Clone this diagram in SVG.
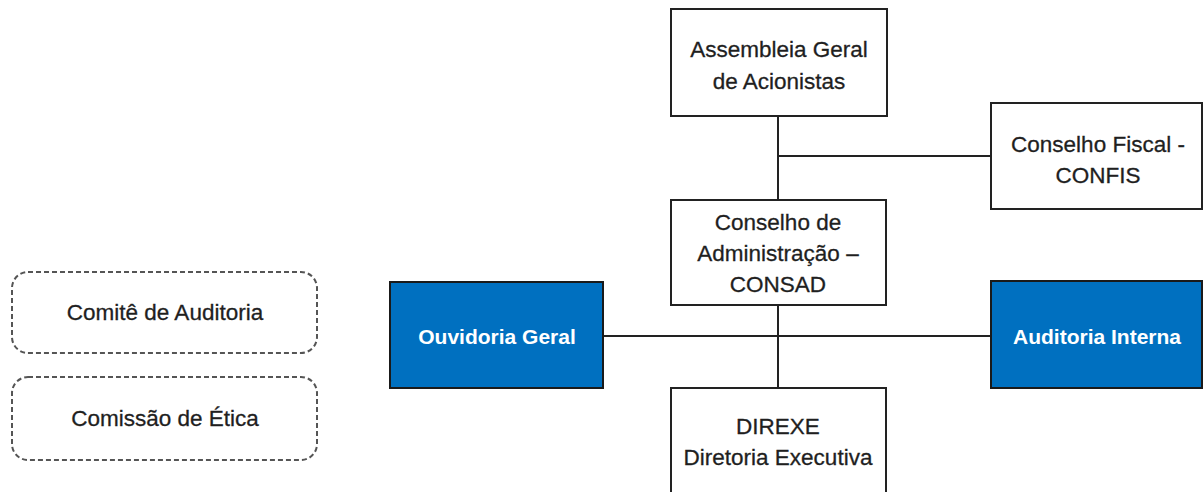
<svg xmlns="http://www.w3.org/2000/svg" width="1203" height="492" viewBox="0 0 1203 492">
<style>
.box{fill:#ffffff;stroke:#222222;stroke-width:2}
.blue{fill:#0070c0;stroke:#1a1a1a;stroke-width:2}
.dash{fill:#ffffff;stroke:#555555;stroke-width:2;stroke-dasharray:5 3}
.t{font-family:"Liberation Sans",Arial,sans-serif;font-size:22.5px;fill:#1f1f1f;stroke:#1f1f1f;stroke-width:0.3;text-anchor:middle}
.w{font-family:"Liberation Sans",Arial,sans-serif;font-size:21px;font-weight:bold;fill:#ffffff;text-anchor:middle}
.c{stroke:#222222;stroke-width:2;fill:none}
</style>
<rect width="1203" height="492" fill="#ffffff"/>
<g id="connectors">
<line class="c" x1="778" y1="116" x2="778" y2="200"/>
<line class="c" x1="778" y1="156" x2="991" y2="156"/>
<line class="c" x1="778" y1="305" x2="778" y2="388"/>
<line class="c" x1="603" y1="336" x2="991" y2="336"/>
</g>
<g id="assembleia">
<rect class="box" x="671" y="9" width="216" height="107"/>
<text class="t" x="779" y="57">Assembleia Geral</text>
<text class="t" x="779" y="89">de Acionistas</text>
</g>
<g id="confis">
<rect class="box" x="991" y="103" width="211" height="106"/>
<text class="t" x="1098" y="152">Conselho Fiscal -</text>
<text class="t" x="1098" y="183">CONFIS</text>
</g>
<g id="consad">
<rect class="box" x="671" y="200" width="215" height="105"/>
<text class="t" x="778" y="230">Conselho de</text>
<text class="t" x="778" y="261">Administração –</text>
<text class="t" x="778" y="292">CONSAD</text>
</g>
<g id="ouvidoria">
<rect class="blue" x="390" y="282" width="213" height="106"/>
<text class="w" x="497" y="344">Ouvidoria Geral</text>
</g>
<g id="auditoria-interna">
<rect class="blue" x="991" y="281" width="211" height="107"/>
<text class="w" x="1097" y="344">Auditoria Interna</text>
</g>
<g id="direxe">
<rect class="box" x="671" y="388" width="215" height="110"/>
<text class="t" x="778" y="434">DIREXE</text>
<text class="t" x="778" y="465">Diretoria Executiva</text>
</g>
<g id="comite">
<rect class="dash" x="12" y="272" width="305" height="81" rx="16"/>
<text class="t" x="165" y="320">Comitê de Auditoria</text>
</g>
<g id="etica">
<rect class="dash" x="12" y="377" width="305" height="83" rx="16"/>
<text class="t" x="165" y="426">Comissão de Ética</text>
</g>
</svg>
